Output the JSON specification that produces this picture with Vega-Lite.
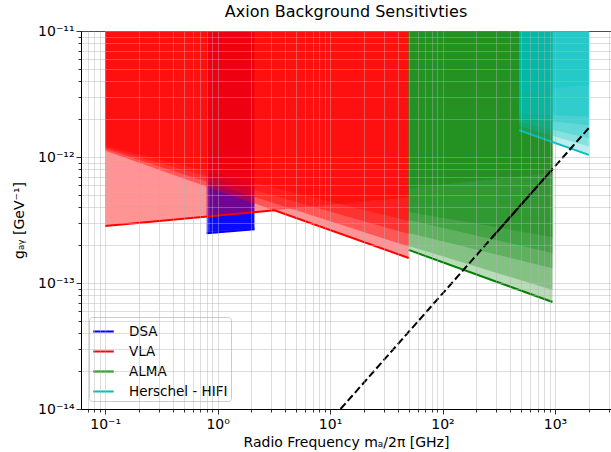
{
  "$schema": "https://vega.github.io/schema/vega-lite/v6.json",
  "width": 530,
  "height": 378,
  "autosize": "none",
  "padding": {"left": 81, "top": 31, "right": 0, "bottom": 43},
  "title": {"text": "Axion Background Sensitivties", "fontSize": 16, "fontWeight": "normal", "color": "black", "offset": 4, "anchor": "middle"},
  "config": {
    "font": "DejaVu Sans",
    "view": {"stroke": "black", "strokeWidth": 1},
    "legend": {
      "orient": "bottom-left", "offset": 8, "fillColor": "rgba(255,255,255,0.85)", "strokeColor": "#cccccc",
      "cornerRadius": 3, "padding": 3, "titlePadding": 0, "labelFontSize": 13.5, "labelColor": "black", "symbolType": "stroke",
      "symbolStrokeWidth": 2, "symbolSize": 420, "symbolOpacity": 1, "rowPadding": 2, "labelOffset": 14
    }
  },
  "datasets": {
    "fills": [
      {"inst": "DSA", "grp": "D1", "f": 0.8, "g": 2.48e-13},
      {"inst": "DSA", "grp": "D1", "f": 2.13, "g": 2.67e-13},
      {"inst": "DSA", "grp": "D2", "f": 0.85, "g": 2.56e-13},
      {"inst": "DSA", "grp": "D2", "f": 2.1, "g": 2.72e-13},
      {"inst": "VLA", "grp": "VB", "f": 0.1, "g": 2.83e-13},
      {"inst": "VLA", "grp": "VB", "f": 50, "g": 4.8e-13},
      {"inst": "VLA", "grp": "VA", "f": 0.1, "g": 1.12e-12},
      {"inst": "VLA", "grp": "VA", "f": 50, "g": 1.58e-13},
      {"inst": "VLA", "grp": "VC", "f": 0.1, "g": 1.16e-12},
      {"inst": "VLA", "grp": "VC", "f": 50, "g": 1.95e-13},
      {"inst": "VLA", "grp": "VD", "f": 0.1, "g": 1.19e-12},
      {"inst": "VLA", "grp": "VD", "f": 50, "g": 2.45e-13},
      {"inst": "VLA", "grp": "VE", "f": 0.1, "g": 1.22e-12},
      {"inst": "VLA", "grp": "VE", "f": 50, "g": 3.1e-13},
      {"inst": "ALMA", "grp": "A0", "f": 50, "g": 1.83e-13},
      {"inst": "ALMA", "grp": "A0", "f": 950, "g": 7.06e-14},
      {"inst": "ALMA", "grp": "A1", "f": 50, "g": 1.97e-13},
      {"inst": "ALMA", "grp": "A1", "f": 950, "g": 8.8e-14},
      {"inst": "ALMA", "grp": "A2", "f": 50, "g": 2.49e-13},
      {"inst": "ALMA", "grp": "A2", "f": 950, "g": 1.31e-13},
      {"inst": "ALMA", "grp": "A3", "f": 50, "g": 3.16e-13},
      {"inst": "ALMA", "grp": "A3", "f": 950, "g": 1.73e-13},
      {"inst": "ALMA", "grp": "A4", "f": 50, "g": 3.66e-13},
      {"inst": "ALMA", "grp": "A4", "f": 950, "g": 2.32e-13},
      {"inst": "ALMA", "grp": "A5", "f": 50, "g": 5.68e-13},
      {"inst": "ALMA", "grp": "A5", "f": 950, "g": 7.46e-13},
      {"inst": "Herschel - HIFI", "grp": "H0", "f": 480, "g": 1.63e-12},
      {"inst": "Herschel - HIFI", "grp": "H0", "f": 2000, "g": 1.04e-12},
      {"inst": "Herschel - HIFI", "grp": "H1", "f": 480, "g": 1.76e-12},
      {"inst": "Herschel - HIFI", "grp": "H1", "f": 2000, "g": 1.21e-12},
      {"inst": "Herschel - HIFI", "grp": "H2", "f": 480, "g": 1.9e-12},
      {"inst": "Herschel - HIFI", "grp": "H2", "f": 2000, "g": 1.41e-12},
      {"inst": "Herschel - HIFI", "grp": "H3", "f": 480, "g": 2.04e-12},
      {"inst": "Herschel - HIFI", "grp": "H3", "f": 2000, "g": 1.79e-12},
      {"inst": "Herschel - HIFI", "grp": "H4", "f": 480, "g": 2.2e-12},
      {"inst": "Herschel - HIFI", "grp": "H4", "f": 2000, "g": 2.09e-12},
      {"inst": "Herschel - HIFI", "grp": "H5", "f": 480, "g": 3.28e-12},
      {"inst": "Herschel - HIFI", "grp": "H5", "f": 2000, "g": 3.73e-12}
    ],
    "edges": [
      {"inst": "DSA", "f": 0.8, "g": 2.48e-13},
      {"inst": "DSA", "f": 2.13, "g": 2.67e-13},
      {"inst": "VLA", "f": 0.1, "g": 2.83e-13},
      {"inst": "VLA", "f": 3.2, "g": 3.78e-13},
      {"inst": "VLA", "f": 50, "g": 1.58e-13},
      {"inst": "ALMA", "f": 50, "g": 1.83e-13},
      {"inst": "ALMA", "f": 950, "g": 7.06e-14},
      {"inst": "Herschel - HIFI", "f": 480, "g": 1.63e-12},
      {"inst": "Herschel - HIFI", "f": 2000, "g": 1.04e-12}
    ],
    "dashed": [
      {"f": 12.4, "g": 1e-14},
      {"f": 2000, "g": 1.7e-12}
    ],
    "solid": [
      {"f": 275, "g": 2.29e-13},
      {"f": 950, "g": 8.0e-13}
    ]
  },
  "encoding": {
    "x": {
      "field": "f", "type": "quantitative",
      "scale": {"type": "log", "domain": [0.061, 3148], "nice": false},
      "axis": {
        "values": [0.07,0.08,0.09,0.1,0.2,0.3,0.4,0.5,0.6,0.7,0.8,0.9,1,2,3,4,5,6,7,8,9,10,20,30,40,50,60,70,80,90,100,200,300,400,500,600,700,800,900,1000,2000,3000],
        "grid": true, "gridColor": "#b0b0b0", "gridOpacity": 0.55, "gridWidth": 0.8,
        "domainColor": "black", "domainWidth": 1, "tickColor": "black", "tickWidth": 0.8,
        "tickSize": {"condition": {"test": "abs(log(datum.value)/LN10 - round(log(datum.value)/LN10)) < 0.001", "value": 5}, "value": 3},
        "labelExpr": "datum.value > 0.099 && datum.value < 0.101 ? '10⁻¹' : datum.value > 0.99 && datum.value < 1.01 ? '10⁰' : datum.value > 9.9 && datum.value < 10.1 ? '10¹' : datum.value > 99 && datum.value < 101 ? '10²' : datum.value > 990 && datum.value < 1010 ? '10³' : ''",
        "labelFontSize": 14, "labelColor": "black", "labelOverlap": false, "labelFlush": false, "labelPadding": 3, "labelBound": false,
        "title": "Radio Frequency mₐ/2π [GHz]", "titleFontSize": 14, "titleFontWeight": "normal", "titleColor": "black", "titlePadding": 4,
        "zindex": 1
      }
    },
    "y": {
      "field": "g", "type": "quantitative",
      "scale": {"type": "log", "domain": [1e-14, 1e-11], "nice": false},
      "axis": {
        "values": [1e-14,2e-14,3e-14,4e-14,5e-14,6e-14,7e-14,8e-14,9e-14,1e-13,2e-13,3e-13,4e-13,5e-13,6e-13,7e-13,8e-13,9e-13,1e-12,2e-12,3e-12,4e-12,5e-12,6e-12,7e-12,8e-12,9e-12,1e-11],
        "grid": true, "gridColor": "#b0b0b0", "gridOpacity": 0.55, "gridWidth": 0.8,
        "domainColor": "black", "domainWidth": 1, "tickColor": "black", "tickWidth": 0.8,
        "tickSize": {"condition": {"test": "abs(log(datum.value)/LN10 - round(log(datum.value)/LN10)) < 0.001", "value": 5}, "value": 3},
        "labelExpr": "datum.value > 0.99e-14 && datum.value < 1.01e-14 ? '10⁻¹⁴' : datum.value > 0.99e-13 && datum.value < 1.01e-13 ? '10⁻¹³' : datum.value > 0.99e-12 && datum.value < 1.01e-12 ? '10⁻¹²' : datum.value > 0.99e-11 && datum.value < 1.01e-11 ? '10⁻¹¹' : ''",
        "labelFontSize": 14, "labelColor": "black", "labelOverlap": false, "labelFlush": false, "labelPadding": 2, "labelBound": false,
        "title": "gₐᵧ [GeV⁻¹]", "titleFontSize": 14, "titleFontWeight": "normal", "titleColor": "black", "titlePadding": 11,
        "zindex": 1
      }
    }
  },
  "layer": [
    {
      "data": {"name": "fills"},
      "transform": [{"filter": "datum.inst == 'DSA'"}],
      "mark": {"type": "area", "orient": "vertical", "clip": true, "color": "#0000ff", "opacity": 0.8},
      "encoding": {"y2": {"datum": 1e-11}, "detail": {"field": "grp"}}
    },
    {
      "data": {"name": "fills"},
      "transform": [{"filter": "datum.inst == 'VLA'"}],
      "mark": {"type": "area", "orient": "vertical", "clip": true, "color": "#ff0000", "opacity": 0.42},
      "encoding": {"y2": {"datum": 1e-11}, "detail": {"field": "grp"}}
    },
    {
      "data": {"name": "fills"},
      "transform": [{"filter": "datum.inst == 'ALMA'"}],
      "mark": {"type": "area", "orient": "vertical", "clip": true, "color": "#008000", "opacity": 0.28},
      "encoding": {"y2": {"datum": 1e-11}, "detail": {"field": "grp"}}
    },
    {
      "data": {"name": "fills"},
      "transform": [{"filter": "datum.inst == 'Herschel - HIFI'"}],
      "mark": {"type": "area", "orient": "vertical", "clip": true, "color": "#00bfbf", "opacity": 0.27},
      "encoding": {"y2": {"datum": 1e-11}, "detail": {"field": "grp"}}
    },
    {
      "data": {"name": "edges"},
      "mark": {"type": "line", "strokeWidth": 2, "clip": true},
      "encoding": {
        "color": {"field": "inst", "type": "nominal", "scale": {"domain": ["DSA", "VLA", "ALMA", "Herschel - HIFI"], "range": ["#0000ff", "#ff0000", "#008000", "#00bfbf"]}, "legend": {"title": null}}
      }
    },
    {
      "data": {"name": "dashed"},
      "mark": {"type": "line", "color": "black", "strokeWidth": 2, "strokeDash": [7.5, 3.3], "clip": true},
      "encoding": {}
    },
    {
      "data": {"name": "solid"},
      "mark": {"type": "line", "color": "black", "strokeWidth": 2, "clip": true},
      "encoding": {}
    }
  ]
}
